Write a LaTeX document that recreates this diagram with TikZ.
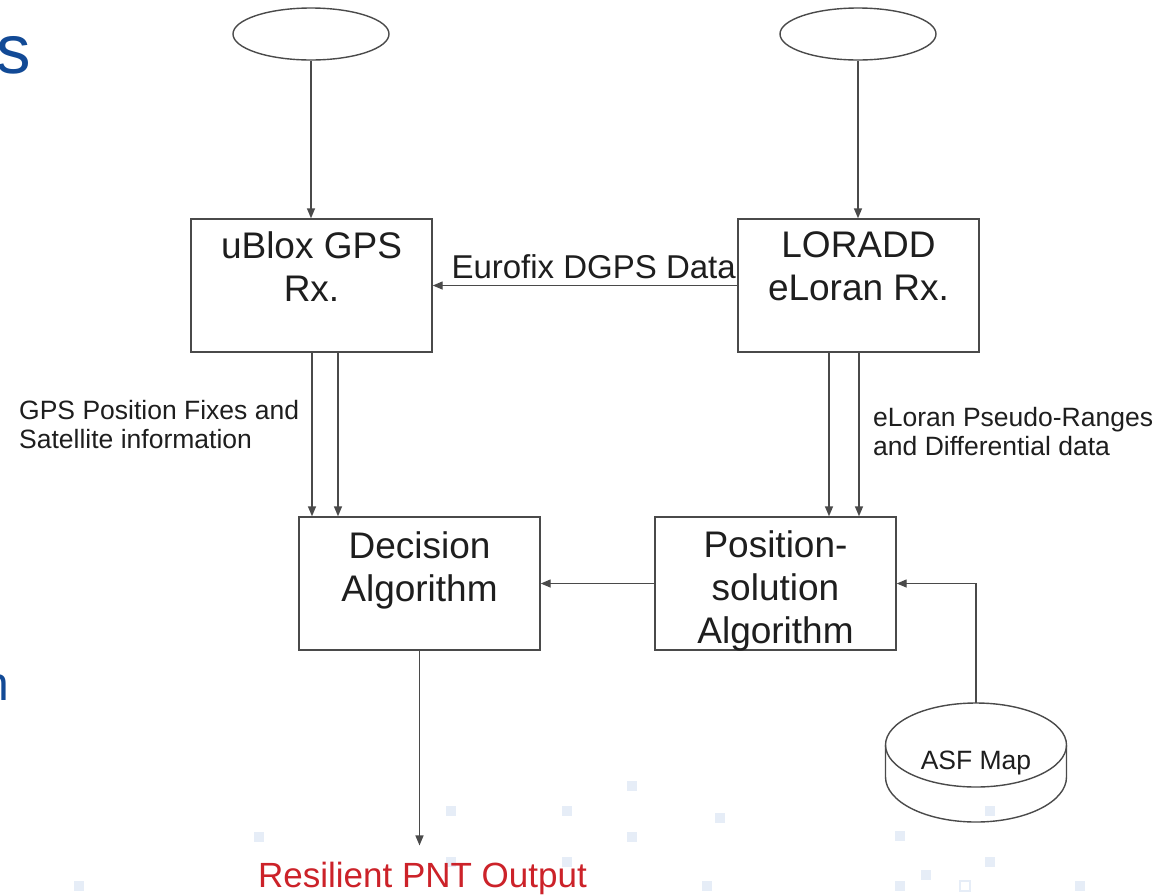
\documentclass[tikz,border=0pt]{standalone}
\usepackage{fontspec}
\setmainfont{Liberation Sans}
\usetikzlibrary{arrows.meta,shapes.geometric}
\definecolor{linegray}{HTML}{4A4A4A}
\definecolor{txt}{HTML}{1E1E1E}
\definecolor{outred}{HTML}{CC2229}
\definecolor{titleblue}{HTML}{124A96}
\definecolor{deco}{HTML}{E6EDF7}
\tikzset{
  line/.style={draw=linegray, line width=1.4pt},
  arr/.style={line, -{Triangle[length=10pt,width=8pt]}},
  antenna/.style={ellipse, line, minimum width=156pt, minimum height=52pt, inner sep=0pt},
  procbox/.style={rectangle, line, minimum width=241pt, minimum height=133pt, inner sep=0pt},
  boxtext/.style={text=txt, align=center, inner sep=0pt, anchor=north, font=\fontsize{37}{43}\selectfont},
  lbl/.style={text=txt, align=left, inner sep=0pt, font=\fontsize{26.5}{29.5}\selectfont},
  decosq/.style={fill=deco, draw=none},
}
\begin{document}
\begin{tikzpicture}[x=1pt,y=-1pt]
\useasboundingbox (0,0) rectangle (1164,895);
\clip (0,0) rectangle (1164,895);
\fill[white] (0,0) rectangle (1164,895);

% faint background squares
\foreach \px/\py in {632/786,451/811,567/811,720/818,259/837,632/837,900/836,990/811,567/862,451/862,990/862,926/875,79/886,707/886,900/886,1080/886}
  \path[decosq] (\px-5,\py-5) rectangle (\px+5,\py+5);
\draw[draw=deco, line width=1.5pt] (960,881) rectangle (970,891);

% partial title letters at left edge
\node[text=titleblue, anchor=base west, inner sep=0pt, font=\fontsize{69}{69}\selectfont] (ttlS) at (-4,73) {s};
\node[text=titleblue, anchor=base west, inner sep=0pt, font=\fontsize{48}{48}\selectfont] (ttlN) at (-17.5,700) {n};

% antennas
\node[antenna] (antL) at (311,34) {};
\node[antenna] (antR) at (858,34) {};

% boxes
\node[procbox] (ublox) at (311.5,285.5) {};
\node[procbox] (loradd) at (858.5,285.5) {};
\node[procbox] (decision) at (419.5,583.5) {};
\node[procbox] (position) at (775.5,583.5) {};

\node[boxtext] (ubloxT) at ([yshift=-13pt]ublox.north) {uBlox GPS\\Rx.};
\node[boxtext] (loraddT) at ([yshift=-13pt]loradd.north) {LORADD\\eLoran Rx.};
\node[boxtext] (decisionT) at ([yshift=-15pt]decision.north) {Decision\\Algorithm};
\node[boxtext] (positionT) at ([yshift=-14pt]position.north) {Position-\\solution\\Algorithm};

% ASF map cylinder
\coordinate (asftop) at (976,703);
\draw[line] (976,745) ellipse [x radius=90.5pt, y radius=42pt];
\draw[line] (885.5,745) -- (885.5,777) arc[start angle=180, end angle=360, x radius=90.5pt, y radius=45pt] -- (1066.5,745);
\node[text=txt, anchor=base, inner sep=0pt, font=\fontsize{26.5}{29}\selectfont] (asf) at (976,769) {ASF Map};

% output
\node[text=outred, anchor=base, inner sep=0pt, font=\fontsize{35}{40}\selectfont] (out) at (422.5,887) {Resilient PNT Output};

% labels
\node[text=txt, anchor=base east, inner sep=0pt, font=\fontsize{33}{38}\selectfont] (eurofix) at (736,278) {Eurofix DGPS Data};
\node[lbl, anchor=north west] (gpslbl) at (19,400) {GPS Position Fixes and\\Satellite information};
\node[lbl, anchor=north west] (eloranlbl) at (873,407) {eLoran Pseudo-Ranges\\and Differential data};

% connectors
\draw[arr] (antL.south) -- (antL.south |- ublox.north);
\draw[arr] (antR.south) -- (antR.south |- loradd.north);
\draw[arr] (loradd.west) -- (ublox.east);
\draw[arr] ([xshift=0.5pt]ublox.south) -- ([xshift=0.5pt]ublox.south |- decision.north);
\draw[arr] ([xshift=26.5pt]ublox.south) -- ([xshift=26.5pt]ublox.south |- decision.north);
\draw[arr] ([xshift=-29.5pt]loradd.south) -- ([xshift=-29.5pt]loradd.south |- position.north);
\draw[arr] ([xshift=0.5pt]loradd.south) -- ([xshift=0.5pt]loradd.south |- position.north);
\draw[arr] (position.west) -- (decision.east);
\draw[arr] (asftop) |- (position.east);
\draw[arr] (decision.south) -- ([yshift=16pt]decision.south |- out.north);
\end{tikzpicture}
\end{document}
